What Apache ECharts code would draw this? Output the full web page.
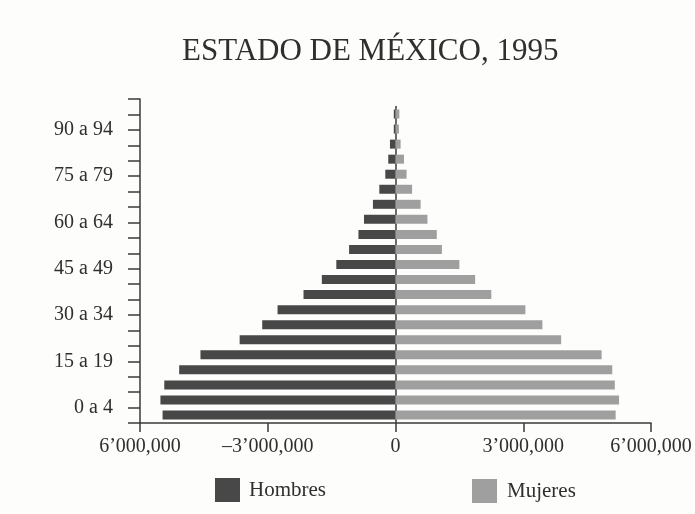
<!DOCTYPE html>
<html>
<head>
<meta charset="utf-8">
<script src="https://cdn.jsdelivr.net/npm/echarts@6/dist/echarts.min.js"></script>
<style>
  html, body { margin: 0; padding: 0; background: #fdfdfb; }
  #chart { width: 695px; height: 514px; }
</style>
</head>
<body>
<div id="chart"></div>
<script>
// Age groups, bottom to top
const ageGroups = [
  '0 a 4', '5 a 9', '10 a 14', '15 a 19', '20 a 24', '25 a 29', '30 a 34',
  '35 a 39', '40 a 44', '45 a 49', '50 a 54', '55 a 59', '60 a 64', '65 a 69',
  '70 a 74', '75 a 79', '80 a 84', '85 a 89', '90 a 94', '95 a 99', '100 y más'
];

// Population by age group
const hombres = [
  5470000, 5520000, 5430000, 5080000, 4580000, 3660000, 3130000,
  2770000, 2160000, 1730000, 1390000, 1090000, 870000, 740000,
  530000, 380000, 240000, 170000, 130000, 40000, 40000
];
const mujeres = [
  5170000, 5250000, 5150000, 5090000, 4840000, 3890000, 3450000,
  3050000, 2250000, 1870000, 1500000, 1090000, 970000, 750000,
  590000, 390000, 260000, 200000, 120000, 80000, 90000
];

// Tick labels along the population axis
const xTickLabels = ['6’000,000', '–3’000,000', '0', '3’000,000', '6’000,000'];

const FONT = '"Liberation Serif", "DejaVu Serif", serif';
const INK = '#2f2f2f';
const LINE = '#3a3a3a';

const chart = echarts.init(document.getElementById('chart'), null, { renderer: 'canvas' });

chart.setOption({
  backgroundColor: '#fdfdfb',
  animation: false,
  title: {
    text: 'ESTADO DE MÉXICO, 1995',
    left: 177,
    top: 31,
    textStyle: { fontFamily: FONT, fontSize: 31, fontWeight: 'normal', color: INK }
  },
  legend: [
    {
      data: ['Hombres'],
      left: 210, top: 473,
      itemWidth: 25, itemHeight: 24,
      icon: 'rect',
      textStyle: { fontFamily: FONT, fontSize: 21, color: INK, padding: [0, 0, 0, 4] }
    },
    {
      data: ['Mujeres'],
      left: 467, top: 474,
      itemWidth: 25, itemHeight: 24,
      icon: 'rect',
      textStyle: { fontFamily: FONT, fontSize: 21, color: INK, padding: [0, 0, 0, 5] }
    }
  ],
  grid: [
    // frame: axes, ticks and labels
    { left: 140, right: 44, top: 99, bottom: 91, containLabel: false },
    // bars
    { left: 140, right: 44, top: 106.5, bottom: 91.5, containLabel: false }
  ],
  xAxis: [
    {
      gridIndex: 0,
      type: 'value',
      min: -6000000, max: 6000000, interval: 3000000,
      axisLine: { show: true, onZero: false, lineStyle: { color: LINE, width: 1.5 } },
      axisTick: { show: true, length: 9, lineStyle: { color: LINE, width: 1.5 } },
      splitLine: { show: false },
      axisLabel: {
        margin: 14,
        fontFamily: FONT, fontSize: 20, color: INK,
        formatter: (v, i) => xTickLabels[i]
      }
    },
    {
      gridIndex: 1,
      type: 'value',
      min: -6000000, max: 6000000,
      show: false
    }
  ],
  yAxis: [
    {
      gridIndex: 0,
      type: 'value',
      min: 0, max: ageGroups.length, interval: 1,
      axisLine: { show: true, onZero: false, lineStyle: { color: LINE, width: 1.5 } },
      axisTick: { show: true, length: 12, lineStyle: { color: LINE, width: 1.5 } },
      splitLine: { show: false },
      axisLabel: {
        margin: 27,
        fontFamily: FONT, fontSize: 20, color: INK,
        showMinLabel: true, showMaxLabel: true,
        formatter: v => (v >= 1 && v <= 19 && (v - 1) % 3 === 0) ? ageGroups[v - 1] : ''
      }
    },
    {
      gridIndex: 1,
      type: 'category',
      data: ageGroups,
      axisLine: { show: true, onZero: true, lineStyle: { color: LINE, width: 1.5 } },
      axisTick: { show: false },
      axisLabel: { show: false },
      splitLine: { show: false }
    }
  ],
  series: [
    {
      name: 'Hombres',
      type: 'bar',
      xAxisIndex: 1, yAxisIndex: 1,
      stack: 'pyramid',
      barWidth: 9,
      itemStyle: { color: '#474847' },
      data: hombres.map(v => -v)
    },
    {
      name: 'Mujeres',
      type: 'bar',
      xAxisIndex: 1, yAxisIndex: 1,
      stack: 'pyramid',
      barWidth: 9,
      itemStyle: { color: '#9f9f9f' },
      data: mujeres
    }
  ]
});
</script>
</body>
</html>
